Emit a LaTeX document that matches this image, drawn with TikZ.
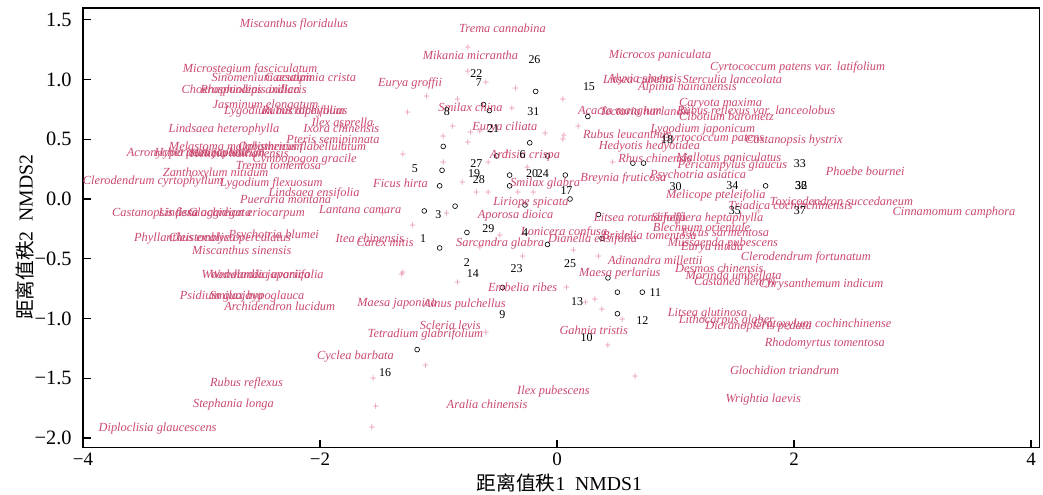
\documentclass[tikz,border=0pt]{standalone}
\usepackage{fontspec}
\setmainfont{Liberation Serif}
\newfontfamily\cjk{Noto Sans CJK SC}
\definecolor{spcol}{RGB}{202,72,110}
\definecolor{pcol}{RGB}{228,130,155}
\begin{document}
\begin{tikzpicture}[x=2.9625cm, y=2.9875cm,
    spname/.style={text=spcol, font=\fontsize{8.8}{10}\selectfont\itshape, inner sep=0pt},
    numlab/.style={font=\fontsize{8.5}{10}\selectfont, inner sep=0pt},
    sitemark/.style={circle, draw, line width=0.45pt, minimum size=0.12cm, inner sep=0pt},
    plusmark/.style={text=pcol, font=\fontsize{8.5}{9}\selectfont, inner sep=0pt},
    ticklab/.style={font=\fontsize{13.5}{15}\selectfont, inner sep=0pt},
    yticklab/.style={font=\fontsize{14.5}{16}\selectfont, inner sep=0pt, anchor=east}]
          \useasboundingbox (-4.70,-2.469) rectangle (4.101,1.665);
          % frame and ticks
          \draw[line width=1.1pt] (-4,-2.08) rectangle (4.07,1.6);
          \draw[line width=0.8pt] (-4,1.5) -- ++(0.2cm,0);
          \draw[line width=0.8pt] (-4,1.0) -- ++(0.2cm,0);
          \draw[line width=0.8pt] (-4,0.5) -- ++(0.2cm,0);
          \draw[line width=0.8pt] (-4,0.0) -- ++(0.2cm,0);
          \draw[line width=0.8pt] (-4,-0.5) -- ++(0.2cm,0);
          \draw[line width=0.8pt] (-4,-1.0) -- ++(0.2cm,0);
          \draw[line width=0.8pt] (-4,-1.5) -- ++(0.2cm,0);
          \draw[line width=0.8pt] (-4,-2.0) -- ++(0.2cm,0);
          \draw[line width=0.8pt] (-2,-2.08) -- ++(0,0.2cm);
          \draw[line width=0.8pt] (0,-2.08) -- ++(0,0.2cm);
          \draw[line width=0.8pt] (2,-2.08) -- ++(0,0.2cm);
          \draw[line width=0.8pt] (4,-2.08) -- ++(0,0.2cm);
          \node[yticklab] (Y1) at (-4.093,1.5) {1.5};
          \node[yticklab] (Y2) at (-4.093,1.0) {1.0};
          \node[yticklab] (Y3) at (-4.093,0.5) {0.5};
          \node[yticklab] (Y4) at (-4.093,0.0) {0.0};
          \node[yticklab] (Y5) at (-4.093,-0.5) {−0.5};
          \node[yticklab] (Y6) at (-4.093,-1.0) {−1.0};
          \node[yticklab] (Y7) at (-4.093,-1.5) {−1.5};
          \node[yticklab] (Y8) at (-4.093,-2.0) {−2.0};
          \node[ticklab] (X1) at (-4,-2.18) {−4};
          \node[ticklab] (X2) at (-2,-2.18) {−2};
          \node[ticklab] (X3) at (0,-2.18) {0};
          \node[ticklab] (X4) at (2,-2.18) {2};
          \node[ticklab] (X5) at (4,-2.18) {4};
          \node[font=\fontsize{14}{16}\selectfont] (XT) at (0.02,-2.377) {{\cjk 距离值秩}1\ \ NMDS1};
          \node[font=\fontsize{14}{16}\selectfont, rotate=90] (YT) at (-4.489,-0.32) {{\cjk 距离值秩}2\ \ NMDS2};
          % species markers
          \node[plusmark] (P1) at (-1.10,0.85) {+};
          \node[plusmark] (P2) at (-1.26,0.72) {+};
          \node[plusmark] (P3) at (-1.30,0.37) {+};
          \node[plusmark] (P4) at (-0.75,1.26) {+};
          \node[plusmark] (P5) at (-0.75,1.06) {+};
          \node[plusmark] (P6) at (-0.60,0.97) {+};
          \node[plusmark] (P7) at (-0.35,0.92) {+};
          \node[plusmark] (P8) at (-0.84,0.83) {+};
          \node[plusmark] (P9) at (0.05,0.83) {+};
          \node[plusmark] (P10) at (-0.38,0.75) {+};
          \node[plusmark] (P11) at (-0.88,0.60) {+};
          \node[plusmark] (P12) at (-0.73,0.55) {+};
          \node[plusmark] (P13) at (-0.65,0.56) {+};
          \node[plusmark] (P14) at (-0.96,0.52) {+};
          \node[plusmark] (P15) at (-0.75,0.47) {+};
          \node[plusmark] (P16) at (-0.10,0.54) {+};
          \node[plusmark] (P17) at (0.06,0.53) {+};
          \node[plusmark] (P18) at (0.18,0.60) {+};
          \node[plusmark] (P19) at (-0.96,0.30) {+};
          \node[plusmark] (P20) at (-0.58,0.30) {+};
          \node[plusmark] (P21) at (-0.42,0.38) {+};
          \node[plusmark] (P22) at (-0.25,0.26) {+};
          \node[plusmark] (P23) at (0.47,0.30) {+};
          \node[plusmark] (P24) at (-0.80,0.13) {+};
          \node[plusmark] (P25) at (-0.68,0.05) {+};
          \node[plusmark] (P26) at (-0.58,0.05) {+};
          \node[plusmark] (P27) at (-0.33,0.05) {+};
          \node[plusmark] (P28) at (-0.20,0.05) {+};
          \node[plusmark] (P29) at (-0.93,-0.13) {+};
          \node[plusmark] (P30) at (-1.22,-0.23) {+};
          \node[plusmark] (P31) at (-0.48,-0.31) {+};
          \node[plusmark] (P32) at (-0.65,-0.41) {+};
          \node[plusmark] (P33) at (-0.29,-0.49) {+};
          \node[plusmark] (P34) at (0.14,-0.44) {+};
          \node[plusmark] (P35) at (0.35,-0.49) {+};
          \node[plusmark] (P36) at (-0.84,-0.70) {+};
          \node[plusmark] (P37) at (0.08,-0.75) {+};
          \node[plusmark] (P38) at (0.24,-0.87) {+};
          \node[plusmark] (P39) at (0.32,-0.85) {+};
          \node[plusmark] (P40) at (0.38,-0.93) {+};
          \node[plusmark] (P41) at (-1.30,-0.62) {+};
          \node[plusmark] (P42) at (0.55,-1.01) {+};
          \node[plusmark] (P43) at (-0.60,-1.12) {+};
          \node[plusmark] (P44) at (0.43,-1.23) {+};
          \node[plusmark] (P45) at (-1.11,-1.40) {+};
          \node[plusmark] (P46) at (0.66,-1.49) {+};
          \node[plusmark] (P47) at (-1.55,-1.51) {+};
          \node[plusmark] (P48) at (-1.53,-1.74) {+};
          \node[plusmark] (P49) at (-1.56,-1.92) {+};
          \node[plusmark] (P50) at (-1.47,-0.13) {+};
          \node[plusmark] (P51) at (-1.31,-0.64) {+};
          \node[plusmark] (P52) at (0.05,0.49) {+};
          \node[plusmark] (P53) at (1.70,-0.11) {+};
          % site markers
          \node[sitemark] (O1) at (-0.18,0.90) {};
          \node[sitemark] (O2) at (-0.62,0.79) {};
          \node[sitemark] (O3) at (-0.57,0.74) {};
          \node[sitemark] (O4) at (-0.96,0.44) {};
          \node[sitemark] (O5) at (-0.23,0.47) {};
          \node[sitemark] (O6) at (-0.51,0.36) {};
          \node[sitemark] (O7) at (-0.08,0.36) {};
          \node[sitemark] (O8) at (-0.97,0.24) {};
          \node[sitemark] (O9) at (-0.99,0.11) {};
          \node[sitemark] (O10) at (-0.40,0.20) {};
          \node[sitemark] (O11) at (-0.40,0.11) {};
          \node[sitemark] (O12) at (0.07,0.20) {};
          \node[sitemark] (O13) at (0.11,0.00) {};
          \node[sitemark] (O14) at (-0.27,-0.05) {};
          \node[sitemark] (O15) at (-1.12,-0.10) {};
          \node[sitemark] (O16) at (-0.86,-0.06) {};
          \node[sitemark] (O17) at (-0.76,-0.28) {};
          \node[sitemark] (O18) at (-0.99,-0.41) {};
          \node[sitemark] (O19) at (-0.08,-0.38) {};
          \node[sitemark] (O20) at (0.35,-0.13) {};
          \node[sitemark] (O21) at (0.38,-0.33) {};
          \node[sitemark] (O22) at (0.43,-0.66) {};
          \node[sitemark] (O23) at (0.51,-0.78) {};
          \node[sitemark] (O24) at (0.72,-0.78) {};
          \node[sitemark] (O25) at (0.51,-0.96) {};
          \node[sitemark] (O26) at (-0.46,-0.74) {};
          \node[sitemark] (O27) at (0.64,0.30) {};
          \node[sitemark] (O28) at (0.73,0.30) {};
          \node[sitemark] (O29) at (0.26,0.69) {};
          \node[sitemark] (O30) at (1.76,0.11) {};
          \node[sitemark] (O31) at (-1.18,-1.26) {};
          % species names
          \node[spname] (S1) at (-2.22,1.46) {Miscanthus floridulus};
          \node[spname] (S2) at (-2.59,1.08) {Microstegium fasciculatum};
          \node[spname] (S3) at (-2.08,1.01) {Caesalpinia crista};
          \node[spname] (S4) at (-2.49,1.02) {Sinomenium acutum};
          \node[spname] (S5) at (-2.64,0.91) {Choerospondias axillaris};
          \node[spname] (S6) at (-2.59,0.91) {Rhaphiolepis indica};
          \node[spname] (S7) at (-2.46,0.78) {Jasminum elongatum};
          \node[spname] (S8) at (-2.30,0.73) {Lygodium microphyllum};
          \node[spname] (S9) at (-2.13,0.73) {Rubus alceifolius};
          \node[spname] (S10) at (-1.81,0.63) {Ilex asprella};
          \node[spname] (S11) at (-1.82,0.59) {Ixora chinensis};
          \node[spname] (S12) at (-2.81,0.58) {Lindsaea heterophylla};
          \node[spname] (S13) at (-1.89,0.49) {Pteris semipinnata};
          \node[spname] (S14) at (-2.71,0.44) {Melastoma malabathricum};
          \node[spname] (S15) at (-2.15,0.43) {Oplismenus flabellulatum};
          \node[spname] (S16) at (-3.12,0.38) {Acronychia pedunculata};
          \node[spname] (S17) at (-2.68,0.38) {Helicia hainanensis};
          \node[spname] (S18) at (-2.93,0.38) {Hypericum japonicum};
          \node[spname] (S19) at (-2.13,0.33) {Cymbopogon gracile};
          \node[spname] (S20) at (-2.35,0.28) {Trema tomentosa};
          \node[spname] (S21) at (-2.88,0.21) {Zanthoxylum nitidum};
          \node[spname] (S22) at (-3.41,0.15) {Clerodendrum cyrtophyllum};
          \node[spname] (S23) at (-2.41,0.13) {Lygodium flexuosum};
          \node[spname] (S24) at (-1.32,0.13) {Ficus hirta};
          \node[spname] (S25) at (-2.05,0.05) {Lindsaea ensifolia};
          \node[spname] (S26) at (-2.29,0.00) {Pueraria montana};
          \node[spname] (S27) at (-1.66,-0.09) {Lantana camara};
          \node[spname] (S28) at (-3.39,-0.12) {Castanopsis fissa};
          \node[spname] (S29) at (-2.97,-0.12) {Lindera aggregata};
          \node[spname] (S30) at (-2.62,-0.12) {Glochidion eriocarpum};
          \node[spname] (S31) at (-3.14,-0.33) {Phyllanthus emblica};
          \node[spname] (S32) at (-2.76,-0.33) {Cleistocalyx operculatus};
          \node[spname] (S33) at (-2.39,-0.31) {Psychotria blumei};
          \node[spname] (S34) at (-2.66,-0.43) {Miscanthus sinensis};
          \node[spname] (S35) at (-1.58,-0.33) {Itea chinensis};
          \node[spname] (S36) at (-1.45,-0.36) {Carex mitis};
          \node[spname] (S37) at (-2.54,-0.64) {Woodwardia japonica};
          \node[spname] (S38) at (-2.45,-0.64) {Wendlandia uvariifolia};
          \node[spname] (S39) at (-2.83,-0.82) {Psidium guajava};
          \node[spname] (S40) at (-2.53,-0.82) {Smilax hypoglauca};
          \node[spname] (S41) at (-2.34,-0.90) {Archidendron lucidum};
          \node[spname] (S42) at (-1.35,-0.88) {Maesa japonica};
          \node[spname] (S43) at (-0.78,-0.88) {Alnus pulchellus};
          \node[spname] (S44) at (-0.27,0.36) {Ardisia crispa};
          \node[spname] (S45) at (-0.10,0.13) {Smilax glabra};
          \node[spname] (S46) at (0.56,0.17) {Breynia fruticosa};
          \node[spname] (S47) at (-0.22,-0.03) {Liriope spicata};
          \node[spname] (S48) at (-0.35,-0.14) {Aporosa dioica};
          \node[spname] (S49) at (-0.48,-0.37) {Sarcandra glabra};
          \node[spname] (S50) at (0.06,-0.28) {Lonicera confusa};
          \node[spname] (S51) at (0.30,-0.34) {Dianella ensifolia};
          \node[spname] (S52) at (0.78,-0.30) {Bridelia tomentosa};
          \node[spname] (S53) at (0.70,-0.16) {Litsea rotundifolia};
          \node[spname] (S54) at (1.27,-0.16) {Schefflera heptaphylla};
          \node[spname] (S55) at (1.22,-0.24) {Blechnum orientale};
          \node[spname] (S56) at (1.42,-0.28) {Ficus sarmentosa};
          \node[spname] (S57) at (1.40,-0.37) {Mussaenda pubescens};
          \node[spname] (S58) at (1.31,-0.41) {Eurya nitida};
          \node[spname] (S59) at (0.83,-0.51) {Adinandra millettii};
          \node[spname] (S60) at (1.37,-0.58) {Desmos chinensis};
          \node[spname] (S61) at (1.49,-0.64) {Morinda umbellata};
          \node[spname] (S62) at (1.50,-0.70) {Castanea henryi};
          \node[spname] (S63) at (2.23,-0.72) {Chrysanthemum indicum};
          \node[spname] (S64) at (2.10,-0.49) {Clerodendrum fortunatum};
          \node[spname] (S65) at (0.53,-0.62) {Maesa perlarius};
          \node[spname] (S66) at (-0.29,-0.74) {Embelia ribes};
          \node[spname] (S67) at (1.27,-0.96) {Litsea glutinosa};
          \node[spname] (S68) at (1.34,0.03) {Melicope pteleifolia};
          \node[spname] (S69) at (1.19,0.20) {Psychotria asiatica};
          \node[spname] (S70) at (0.83,0.34) {Rhus chinensis};
          \node[spname] (S71) at (1.45,0.34) {Mallotus paniculatus};
          \node[spname] (S72) at (1.48,0.28) {Pericampylus glaucus};
          \node[spname] (S73) at (2.60,0.23) {Phoebe bournei};
          \node[spname] (S74) at (2.40,-0.02) {Toxicodendron succedaneum};
          \node[spname] (S75) at (1.97,-0.05) {Triadica cochinchinensis};
          \node[spname] (S76) at (3.35,-0.11) {Cinnamomum camphora};
          \node[spname] (S77) at (-0.46,1.43) {Trema cannabina};
          \node[spname] (S78) at (-0.73,1.20) {Mikania micrantha};
          \node[spname] (S79) at (-1.24,0.97) {Eurya groffii};
          \node[spname] (S80) at (-0.73,0.77) {Smilax china};
          \node[spname] (S81) at (-0.44,0.60) {Eurya ciliata};
          \node[spname] (S82) at (0.53,0.73) {Acacia mangium};
          \node[spname] (S83) at (0.74,0.73) {Tectaria harlandii};
          \node[spname] (S84) at (1.68,0.73) {Rubus reflexus var. lanceolobus};
          \node[spname] (S85) at (1.38,0.80) {Caryota maxima};
          \node[spname] (S86) at (1.43,0.69) {Cibotium barometz};
          \node[spname] (S87) at (1.23,0.58) {Lygodium japonicum};
          \node[spname] (S88) at (0.59,0.54) {Rubus leucanthus};
          \node[spname] (S89) at (1.32,0.50) {Cyrtococcum patens};
          \node[spname] (S90) at (2.00,0.49) {Castanopsis hystrix};
          \node[spname] (S91) at (0.78,0.44) {Hedyotis hedyotidea};
          \node[spname] (S92) at (0.87,1.20) {Microcos paniculata};
          \node[spname] (S93) at (2.03,1.10) {Cyrtococcum patens var. latifolium};
          \node[spname] (S94) at (1.48,1.00) {Sterculia lanceolata};
          \node[spname] (S95) at (1.10,0.93) {Alpinia hainanensis};
          \node[spname] (S96) at (0.68,1.00) {Litsea cubeba};
          \node[spname] (S97) at (0.74,1.00) {Alyxia sinensis};
          \node[spname] (S98) at (-1.70,-1.32) {Cyclea barbata};
          \node[spname] (S99) at (-1.11,-1.13) {Tetradium glabrifolium};
          \node[spname] (S100) at (-0.90,-1.06) {Scleria levis};
          \node[spname] (S101) at (-2.62,-1.54) {Rubus reflexus};
          \node[spname] (S102) at (-2.73,-1.72) {Stephania longa};
          \node[spname] (S103) at (-3.37,-1.92) {Diploclisia glaucescens};
          \node[spname] (S104) at (-0.03,-1.61) {Ilex pubescens};
          \node[spname] (S105) at (-0.59,-1.72) {Aralia chinensis};
          \node[spname] (S106) at (0.31,-1.10) {Gahnia tristis};
          \node[spname] (S107) at (1.43,-1.02) {Lithocarpus glaber};
          \node[spname] (S108) at (1.70,-1.07) {Dicranopteris pedata};
          \node[spname] (S109) at (2.24,-1.05) {Cratoxylum cochinchinense};
          \node[spname] (S110) at (2.26,-1.21) {Rhodomyrtus tomentosa};
          \node[spname] (S111) at (1.92,-1.43) {Glochidion triandrum};
          \node[spname] (S112) at (1.74,-1.68) {Wrightia laevis};
          % plot numbers
          \node[numlab] (N1) at (-1.13,-0.33) {1};
          \node[numlab] (N2) at (-0.76,-0.53) {2};
          \node[numlab] (N3) at (-1.00,-0.13) {3};
          \node[numlab] (N4) at (-0.27,-0.28) {4};
          \node[numlab] (N5) at (-1.20,0.25) {5};
          \node[numlab] (N6) at (-0.29,0.37) {6};
          \node[numlab] (N7) at (-0.66,0.97) {7};
          \node[numlab] (N8) at (-0.93,0.73) {8};
          \node[numlab] (N9) at (-0.46,-0.97) {9};
          \node[numlab] (N10) at (0.25,-1.16) {10};
          \node[numlab] (N11) at (0.83,-0.78) {11};
          \node[numlab] (N12) at (0.72,-1.02) {12};
          \node[numlab] (N13) at (0.17,-0.86) {13};
          \node[numlab] (N14) at (-0.71,-0.62) {14};
          \node[numlab] (N15) at (0.27,0.94) {15};
          \node[numlab] (N16) at (-1.45,-1.45) {16};
          \node[numlab] (N17) at (0.08,0.07) {17};
          \node[numlab] (N18) at (0.93,0.50) {18};
          \node[numlab] (N19) at (-0.70,0.21) {19};
          \node[numlab] (N20) at (-0.21,0.21) {20};
          \node[numlab] (N21) at (-0.54,0.59) {21};
          \node[numlab] (N22) at (-0.68,1.05) {22};
          \node[numlab] (N23) at (-0.34,-0.58) {23};
          \node[numlab] (N24) at (-0.12,0.21) {24};
          \node[numlab] (N25) at (0.11,-0.54) {25};
          \node[numlab] (N26) at (-0.19,1.17) {26};
          \node[numlab] (N27) at (-0.68,0.30) {27};
          \node[numlab] (N28) at (-0.66,0.16) {28};
          \node[numlab] (N29) at (-0.58,-0.25) {29};
          \node[numlab] (N30) at (1.00,0.10) {30};
          \node[numlab] (N31) at (-0.20,0.73) {31};
          \node[numlab] (N32) at (2.06,0.11) {32};
          \node[numlab] (N33) at (2.05,0.30) {33};
          \node[numlab] (N34) at (1.48,0.11) {34};
          \node[numlab] (N35) at (1.50,-0.10) {35};
          \node[numlab] (N36) at (2.06,0.11) {36};
          \node[numlab] (N37) at (2.05,-0.10) {37};
        \end{tikzpicture}
\end{document}
